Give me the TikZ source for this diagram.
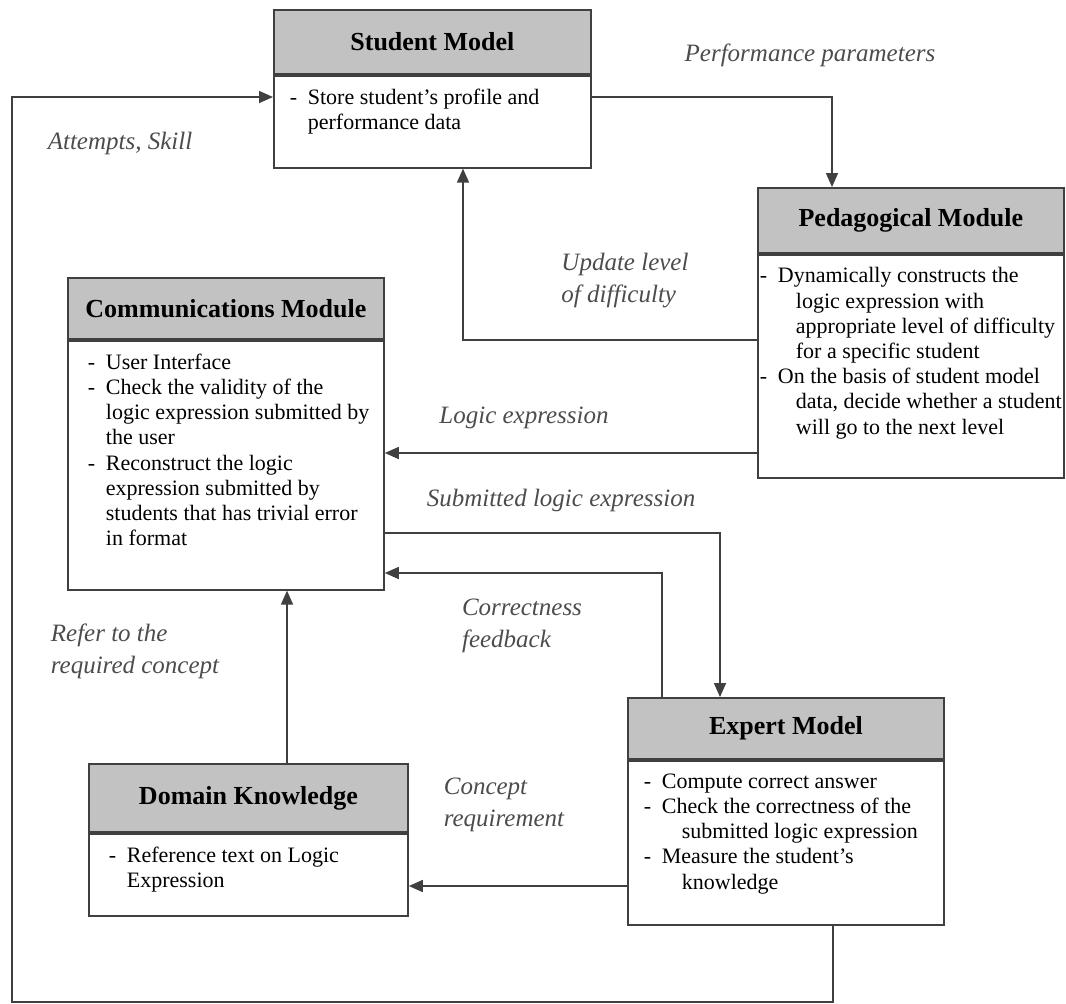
\documentclass[tikz,border=0pt]{standalone}
\usepackage{fontspec}
\setmainfont{Liberation Serif}
\usepackage{tikz}
\usetikzlibrary{arrows.meta,positioning}

\newcommand{\ditem}[1][0pt]{\par\noindent\hangindent=\dimexpr9pt+#1\relax\hangafter=1\makebox[9pt][l]{-}\ignorespaces}
\newcommand{\boxtext}[3]{\parbox[c][#2][t]{#1}{\rightskip=-12pt plus 1fil\vspace*{6.5pt}#3}}

\begin{document}
\begin{tikzpicture}[
  x=0.5pt, y=-0.5pt,
  every node/.style={font=\fontsize{11}{12.6}\selectfont},
  head/.style={draw=black!75, fill=gray!48, line width=0.9pt, anchor=north west,
               inner sep=0pt, font=\bfseries\fontsize{13}{15}\selectfont},
  body/.style={draw=black!75, fill=white, line width=0.9pt, inner ysep=0pt},
  lbl/.style={font=\itshape\fontsize{12.5}{16}\selectfont, text=black!70},
  arr/.style={-{Triangle[length=7pt,width=6pt]}, line width=0.8pt, draw=black!75},
]
\useasboundingbox (0,0) rectangle (1066,1003);

\node[head, minimum width=158.5pt, minimum height=32pt] (smhead) at (273,9) {Student Model};
\node[body, inner xsep=8pt, below=0pt of smhead] (smbody)
  {\boxtext{142.5pt}{46pt}{\ditem Store student's profile and\\ performance data}};

\node[head, minimum width=153pt, minimum height=32.5pt] (pedhead) at (757,187) {Pedagogical Module};
\node[body, inner xsep=1pt, below=0pt of pedhead] (pedbody)
  {\boxtext{151pt}{111.5pt}{\ditem[9pt] Dynamically constructs the\\ logic expression with\\ appropriate level of difficulty\\ for a specific student
   \ditem[9pt] On the basis of student model\\ data, decide whether a student\\ will go to the next level}};

\node[head, minimum width=158pt, minimum height=30.5pt] (comhead) at (67,277) {Communications Module};
\node[body, inner xsep=10pt, below=0pt of comhead] (combody)
  {\boxtext{138pt}{124.5pt}{\ditem User Interface
   \ditem Check the validity of the\\ logic expression submitted by\\ the user
   \ditem Reconstruct the logic\\ expression submitted by\\ students that has trivial error\\ in format}};

\node[head, minimum width=158pt, minimum height=30.5pt] (exphead) at (627,697) {Expert Model};
\node[body, inner xsep=8pt, below=0pt of exphead] (expbody)
  {\boxtext{142pt}{82pt}{\ditem Compute correct answer
   \ditem[10pt] Check the correctness of the\\ submitted logic expression
   \ditem[10pt] Measure the student's\\ knowledge}};

\node[head, minimum width=159.5pt, minimum height=34pt] (dkhead) at (88,763) {Domain Knowledge};
\node[body, inner xsep=10pt, below=0pt of dkhead] (dkbody)
  {\boxtext{139.5pt}{41pt}{\ditem Reference text on Logic\\ Expression}};

\node[lbl] (perfl) at (810,55) {Performance parameters};
\node[lbl] (attl) at (120,143) {Attempts, Skill};
\node[lbl, align=left] (updl) at (625,281) {Update level\\of difficulty};
\node[lbl] (logl) at (524,418) {Logic expression};
\node[lbl] (subl) at (561,500) {Submitted logic expression};
\node[lbl, align=left] (corl) at (522,626) {Correctness\\feedback};
\node[lbl, align=left] (refl) at (135,651) {Refer to the\\required concept};
\node[lbl, align=left] (conl) at (504,805) {Concept\\requirement};

\coordinate (perfc) at (832,97);
\coordinate (updc) at (463,340);
\coordinate (logc) at (0,453);
\coordinate (subc) at (720,533);
\coordinate (corc) at (662,573);
\coordinate (refc) at (287,0);
\coordinate (conc) at (0,886);
\coordinate (loopr) at (833,1002);
\coordinate (loopl) at (12,1002);
\coordinate (attc) at (12,97);

\draw[arr] (smbody.east |- perfc) -- (perfc) -- (perfc |- pedhead.north);
\draw[arr] (pedbody.west |- updc) -- (updc) -- (updc |- smbody.south);
\draw[arr] (pedbody.west |- logc) -- (combody.east |- logc);
\draw[arr] (combody.east |- subc) -- (subc) -- (subc |- exphead.north);
\draw[arr] (exphead.north -| corc) -- (corc) -- (combody.east |- corc);
\draw[arr] (dkhead.north -| refc) -- (combody.south -| refc);
\draw[arr] (expbody.west |- conc) -- (dkbody.east |- conc);
\draw[arr] (expbody.south -| loopr) -- (loopr) -- (loopl) -- (attc) -- (smbody.west |- attc);
\end{tikzpicture}
\end{document}
